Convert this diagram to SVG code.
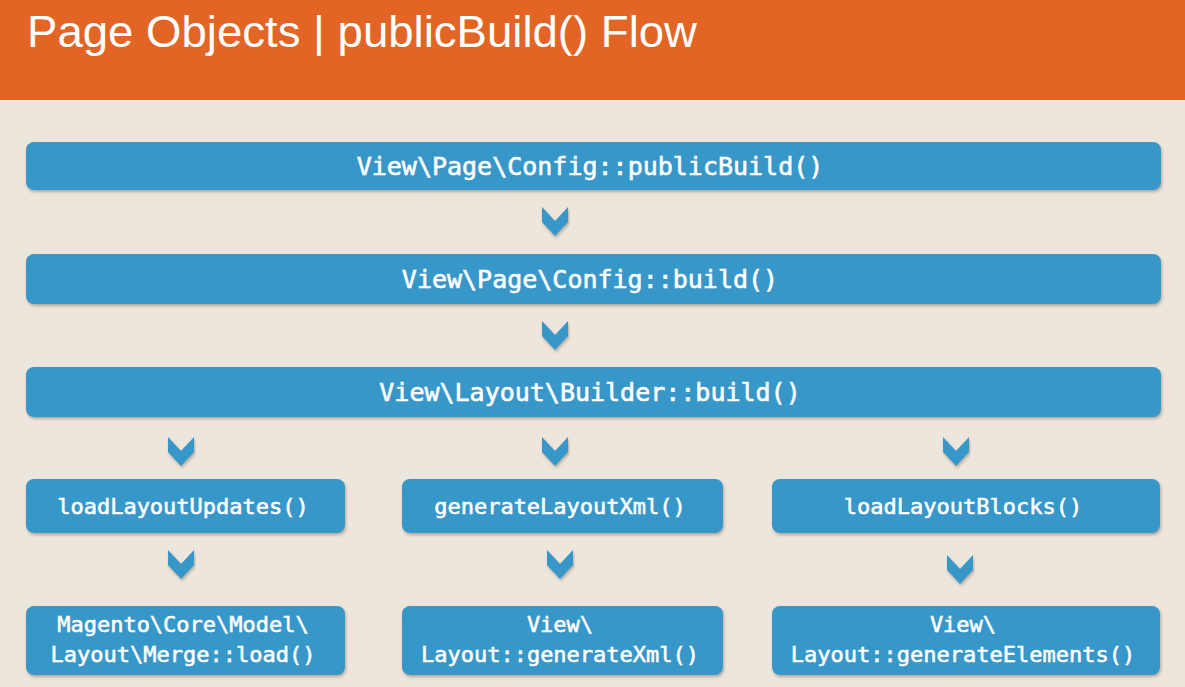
<svg xmlns="http://www.w3.org/2000/svg" width="1185" height="687" viewBox="0 0 1185 687">
  <defs>
    <filter id="sh" x="-5%" y="-20%" width="110%" height="150%">
      <feDropShadow dx="1" dy="2" stdDeviation="1.5" flood-color="#6b5a48" flood-opacity="0.45"/>
    </filter>
    <path id="chev" d="M-13,0 L0,14 L13,0 L13,15 L0,29 L-13,15 Z"/>
  </defs>
  <style>
    .bg { fill: #EDE6DD; }
    .hdr { fill: #E36526; }
    .title { font-family: "Liberation Sans", Arial, sans-serif; font-size: 45px; fill: #FFFFFF; }
    .box { fill: #3797C9; filter: url(#sh); }
    .chev { fill: #3797C9; filter: url(#sh); }
    .big { font-family: "DejaVu Sans Mono", "Liberation Mono", monospace; font-size: 25px; fill: #FFFFFF; stroke: #FFFFFF; stroke-width: 0.6px; text-anchor: middle; }
    .sm { font-family: "DejaVu Sans Mono", "Liberation Mono", monospace; font-size: 22px; fill: #FFFFFF; stroke: #FFFFFF; stroke-width: 0.55px; text-anchor: middle; }
  </style>
  <rect class="bg" x="0" y="0" width="1185" height="687"/>
  <rect class="hdr" x="0" y="0" width="1185" height="100"/>
  <rect x="0" y="100" width="1185" height="1" fill="#F4EEE8"/>
  <text class="title" x="27" y="47" textLength="670" lengthAdjust="spacingAndGlyphs">Page Objects | publicBuild() Flow</text>

  <g id="n-publicBuild">
    <rect class="box" x="26" y="142" width="1135" height="48" rx="8"/>
    <text class="big" x="590" y="175">View\Page\Config::publicBuild()</text>
  </g>
  <g id="n-build">
    <rect class="box" x="26" y="254" width="1135" height="50" rx="8"/>
    <text class="big" x="590" y="288">View\Page\Config::build()</text>
  </g>
  <g id="n-builder">
    <rect class="box" x="26" y="367" width="1135" height="50" rx="8"/>
    <text class="big" x="590" y="401">View\Layout\Builder::build()</text>
  </g>
  <g id="n-loadLayoutUpdates">
    <rect class="box" x="26" y="479" width="319" height="54" rx="8"/>
    <text class="sm" x="183" y="514">loadLayoutUpdates()</text>
  </g>
  <g id="n-generateLayoutXml">
    <rect class="box" x="402" y="479" width="321" height="54" rx="8"/>
    <text class="sm" x="560" y="514">generateLayoutXml()</text>
  </g>
  <g id="n-loadLayoutBlocks">
    <rect class="box" x="772" y="479" width="388" height="54" rx="8"/>
    <text class="sm" x="963" y="514">loadLayoutBlocks()</text>
  </g>
  <g id="n-mergeLoad">
    <rect class="box" x="26" y="606" width="319" height="69" rx="8"/>
    <text class="sm" x="183" y="632">Magento\Core\Model\</text>
    <text class="sm" x="183" y="662">Layout\Merge::load()</text>
  </g>
  <g id="n-generateXml">
    <rect class="box" x="402" y="606" width="321" height="69" rx="8"/>
    <text class="sm" x="560" y="632">View\</text>
    <text class="sm" x="560" y="662">Layout::generateXml()</text>
  </g>
  <g id="n-generateElements">
    <rect class="box" x="772" y="606" width="388" height="69" rx="8"/>
    <text class="sm" x="963" y="632">View\</text>
    <text class="sm" x="963" y="662">Layout::generateElements()</text>
  </g>

  <g id="connectors">
    <use class="chev" href="#chev" x="555" y="207"/>
    <use class="chev" href="#chev" x="555" y="321"/>
    <use class="chev" href="#chev" x="181" y="437"/>
    <use class="chev" href="#chev" x="555" y="437"/>
    <use class="chev" href="#chev" x="956" y="437"/>
    <use class="chev" href="#chev" x="181" y="550"/>
    <use class="chev" href="#chev" x="560" y="550"/>
    <use class="chev" href="#chev" x="960" y="555"/>
  </g>
</svg>
